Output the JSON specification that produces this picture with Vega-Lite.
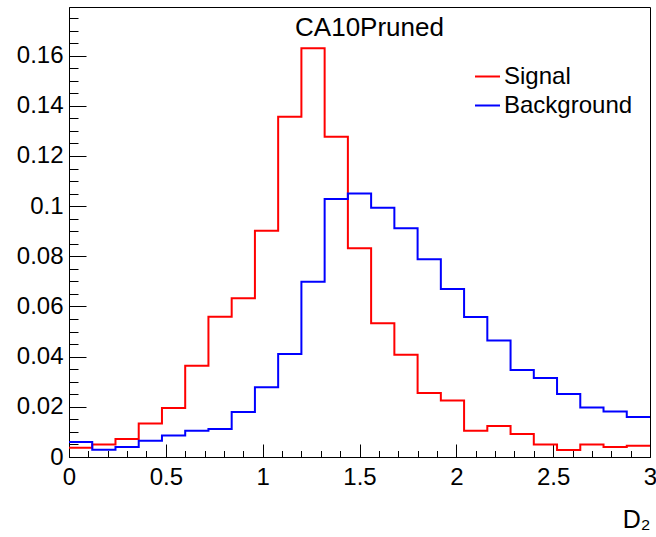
{
  "$schema": "https://vega.github.io/schema/vega-lite/v6.json",
  "autosize": {"type": "none"},
  "width": 581,
  "height": 450,
  "padding": {"left": 69, "top": 7, "right": 6, "bottom": 80},
  "background": "white",
  "config": {
    "font": "Liberation Sans",
    "view": {"stroke": "black", "strokeWidth": 1},
    "axis": {"grid": false, "domainColor": "black", "tickColor": "black", "domainWidth": 1, "tickWidth": 1, "labelColor": "black", "labelFont": "Liberation Sans", "titleFont": "Liberation Sans", "labelFontSize": 24, "labelFontWeight": "normal", "titleFontWeight": "normal"}
  },
  "data": {"values": [
    {"x": 0.00, "y": 0.0037, "series": "Signal"},
    {"x": 0.12, "y": 0.0050, "series": "Signal"},
    {"x": 0.24, "y": 0.0072, "series": "Signal"},
    {"x": 0.36, "y": 0.0134, "series": "Signal"},
    {"x": 0.48, "y": 0.0195, "series": "Signal"},
    {"x": 0.60, "y": 0.0364, "series": "Signal"},
    {"x": 0.72, "y": 0.0559, "series": "Signal"},
    {"x": 0.84, "y": 0.0633, "series": "Signal"},
    {"x": 0.96, "y": 0.0902, "series": "Signal"},
    {"x": 1.08, "y": 0.1356, "series": "Signal"},
    {"x": 1.20, "y": 0.1630, "series": "Signal"},
    {"x": 1.32, "y": 0.1277, "series": "Signal"},
    {"x": 1.44, "y": 0.0832, "series": "Signal"},
    {"x": 1.56, "y": 0.0533, "series": "Signal"},
    {"x": 1.68, "y": 0.0408, "series": "Signal"},
    {"x": 1.80, "y": 0.0255, "series": "Signal"},
    {"x": 1.92, "y": 0.0225, "series": "Signal"},
    {"x": 2.04, "y": 0.0105, "series": "Signal"},
    {"x": 2.16, "y": 0.0124, "series": "Signal"},
    {"x": 2.28, "y": 0.0092, "series": "Signal"},
    {"x": 2.40, "y": 0.0050, "series": "Signal"},
    {"x": 2.52, "y": 0.0028, "series": "Signal"},
    {"x": 2.64, "y": 0.0050, "series": "Signal"},
    {"x": 2.76, "y": 0.0040, "series": "Signal"},
    {"x": 2.88, "y": 0.0045, "series": "Signal"},
    {"x": 3.00, "y": 0.0045, "series": "Signal"},
    {"x": 0.00, "y": 0.0060, "series": "Background"},
    {"x": 0.12, "y": 0.0029, "series": "Background"},
    {"x": 0.24, "y": 0.0040, "series": "Background"},
    {"x": 0.36, "y": 0.0065, "series": "Background"},
    {"x": 0.48, "y": 0.0086, "series": "Background"},
    {"x": 0.60, "y": 0.0105, "series": "Background"},
    {"x": 0.72, "y": 0.0112, "series": "Background"},
    {"x": 0.84, "y": 0.0179, "series": "Background"},
    {"x": 0.96, "y": 0.0278, "series": "Background"},
    {"x": 1.08, "y": 0.0411, "series": "Background"},
    {"x": 1.20, "y": 0.0699, "series": "Background"},
    {"x": 1.32, "y": 0.1029, "series": "Background"},
    {"x": 1.44, "y": 0.1050, "series": "Background"},
    {"x": 1.56, "y": 0.0994, "series": "Background"},
    {"x": 1.68, "y": 0.0912, "series": "Background"},
    {"x": 1.80, "y": 0.0788, "series": "Background"},
    {"x": 1.92, "y": 0.0670, "series": "Background"},
    {"x": 2.04, "y": 0.0558, "series": "Background"},
    {"x": 2.16, "y": 0.0464, "series": "Background"},
    {"x": 2.28, "y": 0.0347, "series": "Background"},
    {"x": 2.40, "y": 0.0315, "series": "Background"},
    {"x": 2.52, "y": 0.0251, "series": "Background"},
    {"x": 2.64, "y": 0.0197, "series": "Background"},
    {"x": 2.76, "y": 0.0181, "series": "Background"},
    {"x": 2.88, "y": 0.0159, "series": "Background"},
    {"x": 3.00, "y": 0.0159, "series": "Background"}
  ]},
  "mark": {"type": "line", "interpolate": "step-after", "strokeWidth": 2, "clip": true},
  "encoding": {
    "x": {
      "field": "x", "type": "quantitative",
      "scale": {"domain": [0, 3], "nice": false, "zero": false},
      "axis": {
        "values": [0,0.1,0.2,0.3,0.4,0.5,0.6,0.7,0.8,0.9,1,1.1,1.2,1.3,1.4,1.5,1.6,1.7,1.8,1.9,2,2.1,2.2,2.3,2.4,2.5,2.6,2.7,2.8,2.9,3],
        "labelExpr": "abs(datum.value*2 - round(datum.value*2)) < 0.001 ? toString(round(datum.value*10)/10) : ''",
        "tickSize": {"condition": {"test": "abs(datum.value*2 - round(datum.value*2)) < 0.001", "value": -13}, "value": -6.5},
        "labelPadding": 21,
        "labelFontSize": 24,
        "labelFont": "Liberation Sans",
        "labelFlush": false,
        "labelOverlap": false,
        "title": "D₂",
        "titleFontSize": 25,
        "titleColor": "black",
        "titleAnchor": "end",
        "titleAlign": "right",
        "titleBaseline": "alphabetic",
        "titleX": 581,
        "titleY": 70
      }
    },
    "y": {
      "field": "y", "type": "quantitative",
      "scale": {"domain": [0, 0.1794], "nice": false, "zero": true},
      "axis": {
        "values": [0,0.005,0.01,0.015,0.02,0.025,0.03,0.035,0.04,0.045,0.05,0.055,0.06,0.065,0.07,0.075,0.08,0.085,0.09,0.095,0.1,0.105,0.11,0.115,0.12,0.125,0.13,0.135,0.14,0.145,0.15,0.155,0.16,0.165,0.17,0.175],
        "labelExpr": "abs(datum.value*50 - round(datum.value*50)) < 0.001 ? toString(round(datum.value*100)/100) : ''",
        "tickSize": {"condition": {"test": "abs(datum.value*50 - round(datum.value*50)) < 0.001", "value": -17}, "value": -9},
        "labelPadding": 23,
        "labelFontSize": 24,
        "labelFont": "Liberation Sans",
        "labelFlush": false,
        "labelOverlap": false,
        "title": "CA10Pruned",
        "titleFontSize": 26,
        "titleColor": "black",
        "titleAngle": 0,
        "titleAlign": "center",
        "titleBaseline": "alphabetic",
        "titleX": 300,
        "titleY": 28
      }
    },
    "color": {
      "field": "series", "type": "nominal",
      "scale": {"domain": ["Signal", "Background"], "range": ["#ff0000", "#0000ff"]},
      "legend": {
        "orient": "none", "legendX": 405, "legendY": 56,
        "title": null,
        "symbolType": "stroke", "symbolSize": 625, "symbolStrokeWidth": 2,
        "labelFont": "Liberation Sans", "labelFontSize": 24, "labelColor": "black",
        "labelOffset": 3, "rowPadding": 3, "padding": 0
      }
    }
  }
}
